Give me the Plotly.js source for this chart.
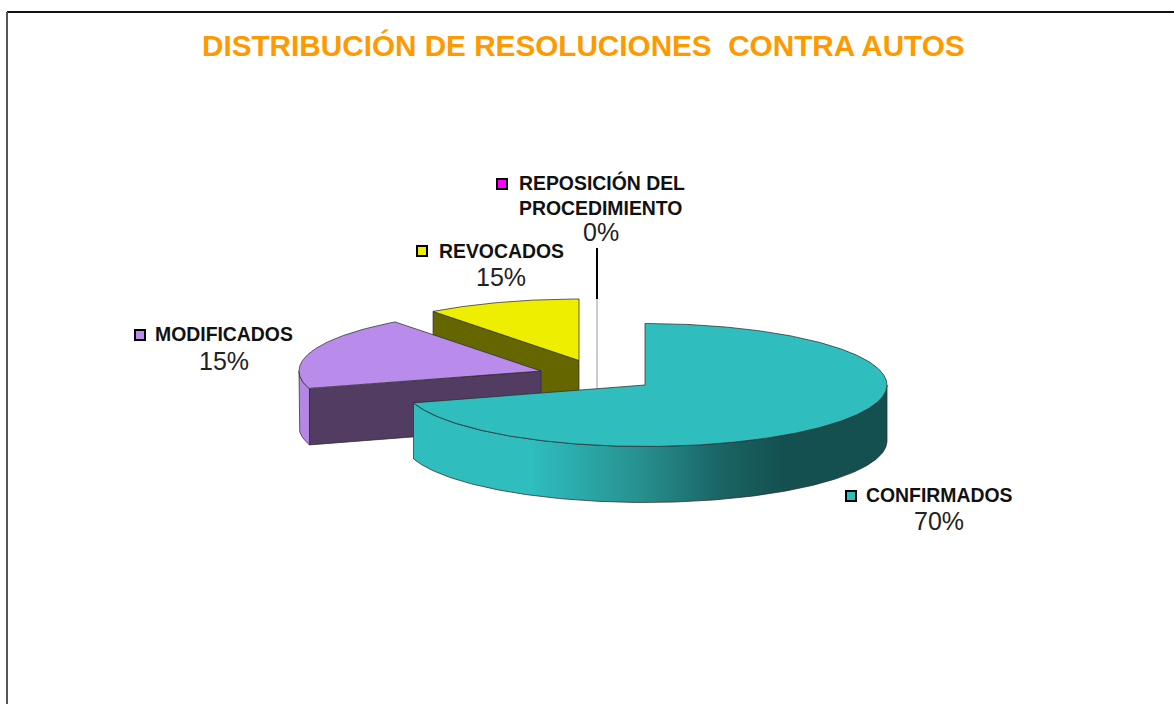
<!DOCTYPE html>
<html>
<head>
<meta charset="utf-8">
<script src="https://cdn.plot.ly/plotly-3.0.1.min.js"></script>
<style>html,body{margin:0;padding:0;background:#fff;}#chart{width:1174px;height:704px;}</style>
</head>
<body>
<div id="chart"></div>
<script>
// ---- data ----
const chartTitle = 'DISTRIBUCIÓN DE RESOLUCIONES  CONTRA AUTOS';
const categories = ['CONFIRMADOS', 'MODIFICADOS', 'REVOCADOS', 'REPOSICIÓN DEL<br>PROCEDIMIENTO'];
const percentLabels = ['70%', '15%', '15%', '0%'];
// share of the turn each wedge occupies in the drawing (clockwise from 12 o'clock)
const drawnShares = [70.3, 19.4, 10.3, 0];
const topColors = ['#2FBDBE', '#B98CEB', '#EEEE00', '#FF00FF'];
const faceColors = ['#145050', '#523C62', '#666600', '#FFFFFF'];

// ---- presentation ----
const RX = 242, RY = 61.5, DEPTH = 56;
const centres = [[645, 385], [541, 371], [579, 360.5], [597, 360.5]];
const edge = 'rgba(45,45,45,0.75)';

function pt(c, deg, dy) {
  const r = deg * Math.PI / 180;
  return [c[0] + RX * Math.sin(r), c[1] - RY * Math.cos(r) + (dy || 0)];
}
function arc(c, a, b, dy) {
  const n = Math.max(1, Math.ceil(Math.abs(b - a) * 2));
  const out = [];
  for (let i = 0; i <= n; i++) out.push(pt(c, a + (b - a) * i / n, dy));
  return out;
}
function poly(points, color, extra) {
  const closed = points.concat([points[0]]);
  return Object.assign({
    type: 'scatter', mode: 'lines', x: closed.map(p => p[0]), y: closed.map(p => p[1]),
    fill: 'toself', fillcolor: color, line: {color: edge, width: 1},
    hoverinfo: 'skip', showlegend: false
  }, extra || {});
}

// wedge angles from the shares
const starts = [], ends = [];
drawnShares.reduce((acc, s, i) => { starts[i] = acc; ends[i] = acc + s * 3.6; return ends[i]; }, 0);

const traces = [];

// REVOCADOS: cut face, then top
(function () {
  const i = 2, c = centres[i], a = starts[i], b = ends[i], rim = pt(c, a);
  traces.push(poly([rim, c, [c[0], c[1] + DEPTH], [rim[0], rim[1] + DEPTH]], faceColors[i]));
  traces.push(poly([c].concat(arc(c, a, b)), topColors[i]));
})();

// zero wedge: a hairline only
(function () {
  const c = centres[3];
  traces.push({type: 'scatter', mode: 'lines', x: [c[0], c[0]], y: [c[1] - RY, c[1] + 28],
    line: {color: '#9A9A9A', width: 1}, hoverinfo: 'skip', showlegend: false});
  traces.push({type: 'scatter', mode: 'lines', x: [c[0], c[0]], y: [248, c[1] - RY],
    line: {color: '#000000', width: 2}, hoverinfo: 'skip', showlegend: false});
})();

// MODIFICADOS: rim, cut face, top
(function () {
  const i = 1, c = centres[i], a = starts[i], b = ends[i], rim = pt(c, a);
  const top = arc(c, a, 270), low = arc(c, 270, a, DEPTH);
  traces.push(poly(top.concat(low), '#B586E6'));
  traces.push(poly([rim, c, [c[0], c[1] + DEPTH], [rim[0], rim[1] + DEPTH]], faceColors[i]));
  traces.push(poly([c].concat(arc(c, a, b)), topColors[i]));
})();

// CONFIRMADOS: rim with gradient, top
(function () {
  const i = 0, c = centres[i], a = starts[i], b = ends[i];
  const top = arc(c, 90, b), low = arc(c, b, 90, DEPTH);
  traces.push(poly(top.concat(low), topColors[i], {
    fillcolor: undefined,
    fillgradient: {
      type: 'horizontal', start: 413, stop: 887,
      colorscale: [[0, '#2FBDBE'], [0.25, '#2FBDBE'], [0.48, '#27908F'],
                   [0.65, '#1A6464'], [0.78, '#145050'], [1, '#145050']]
    }
  }));
  traces.push(poly([c].concat(arc(c, a, b)), topColors[i]));
})();

// legend-style keys beside the labels
const keyX = [851, 140, 422, 502], keyY = [496, 335, 251, 184];
traces.push({type: 'scatter', mode: 'markers', x: keyX, y: keyY,
  marker: {symbol: 'square', size: 10, color: topColors, line: {color: '#000', width: 2}},
  hoverinfo: 'skip', showlegend: false});

// labels
const LABEL = {family: 'Liberation Sans, Arial, sans-serif', size: 19.4, color: '#111'};
const PCT = {family: 'Liberation Sans, Arial, sans-serif', size: 25, color: '#222'};
const nameX = [864, 153, 437, 517], nameY = [495, 334, 251, 195];
const pctX = [939, 224, 501, 601], pctY = [521, 361, 277, 232];
const annotations = [];
categories.forEach((name, i) => {
  annotations.push({xref: 'x', yref: 'y', x: nameX[i], y: nameY[i], text: '<b>' + name + '</b>',
    showarrow: false, xanchor: 'left', yanchor: 'middle', align: 'left', font: LABEL});
  annotations.push({xref: 'x', yref: 'y', x: pctX[i], y: pctY[i], text: percentLabels[i],
    showarrow: false, xanchor: 'center', yanchor: 'middle', font: PCT});
});
annotations.push({xref: 'x', yref: 'y', x: 583.5, y: 45, text: '<b>' + chartTitle + '</b>',
  showarrow: false, xanchor: 'center', yanchor: 'middle',
  font: {family: 'Liberation Sans, Arial, sans-serif', size: 29.7, color: '#FF9900'}});

const hidden = {visible: false, fixedrange: true, showgrid: false, zeroline: false};
const layout = {
  width: 1174, height: 704, margin: {l: 0, r: 0, t: 0, b: 0, pad: 0},
  paper_bgcolor: '#fff', plot_bgcolor: '#fff', showlegend: false,
  xaxis: Object.assign({range: [0, 1174]}, hidden),
  yaxis: Object.assign({range: [704, 0]}, hidden),
  annotations: annotations,
  shapes: [
    {type: 'line', xref: 'x', yref: 'y', x0: 7, x1: 1174, y0: 12, y1: 12, line: {color: '#111', width: 2}},
    {type: 'line', xref: 'x', yref: 'y', x0: 7, x1: 7, y0: 12, y1: 704, line: {color: '#555', width: 2}}
  ]
};
Plotly.newPlot('chart', traces, layout, {displayModeBar: false, staticPlot: true});
</script>
</body>
</html>
